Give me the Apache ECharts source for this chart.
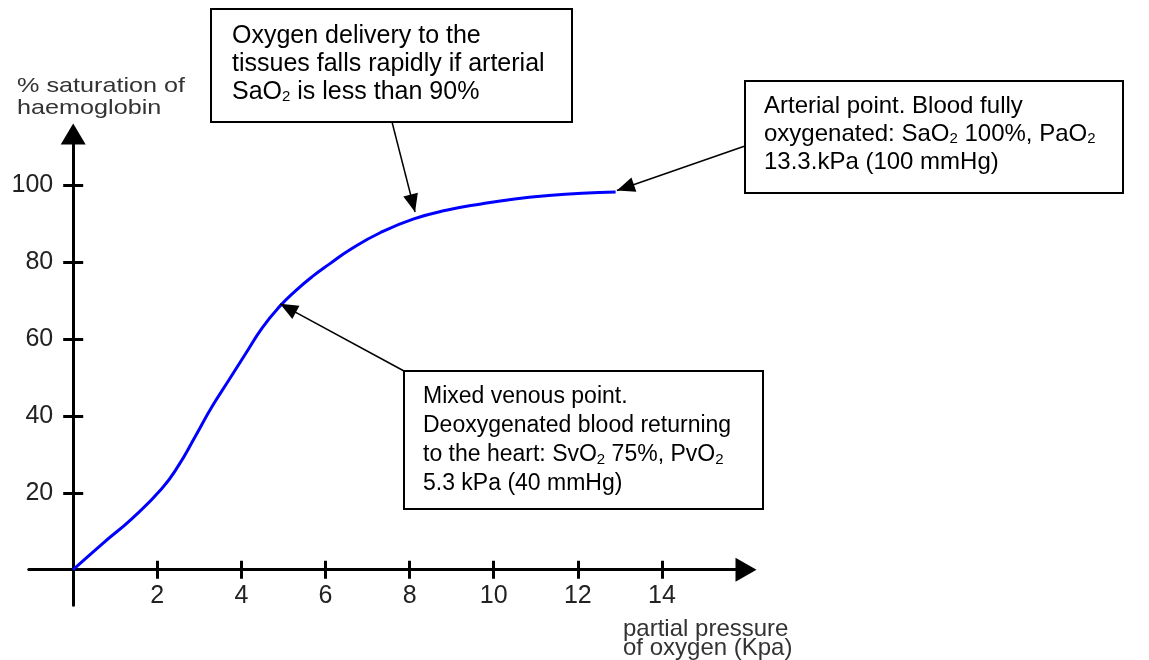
<!DOCTYPE html>
<html>
<head>
<meta charset="utf-8">
<title>Oxygen dissociation curve</title>
<script src="https://cdn.jsdelivr.net/npm/echarts@6/dist/echarts.min.js"></script>
<style>
  html, body { margin: 0; padding: 0; background: #fff; }
  #chart-main { width: 1149px; height: 660px; }
</style>
</head>
<body>
<div id="chart-main"></div>
<script>
  // partial pressure of oxygen (kPa) and % saturation
  const po2 = [0, 0.7, 1.4, 2.1, 2.5, 2.9, 3.3, 3.7, 4.1, 4.5, 4.9, 5.3, 5.7, 6.1, 6.6, 7.3, 8.1, 8.9, 9.7, 10.5, 11.3, 12.1, 12.9];
  const saturation = [0, 6.8, 13.3, 21, 27, 34.6, 42.4, 49.3, 56.2, 63, 68.4, 72.7, 76.4, 79.6, 83.4, 87.7, 91.3, 93.6, 95.2, 96.5, 97.4, 98, 98.3];

  const xTicks = [2, 4, 6, 8, 10, 12, 14];
  const yTicks = [20, 40, 60, 80, 100];

  // where the annotation arrows point
  const thresholdPoint = [8.13, 93.1];
  const arterialPoint = [12.93, 98.7];
  const venousPoint = [4.92, 69.2];

  const FONT = '"Liberation Sans", Arial, sans-serif';
  const axisColor = '#000';

  const chartDom = document.getElementById('chart-main');
  const myChart = echarts.init(chartDom, null, { renderer: 'canvas' });

  // grid edges sit left of / below the origin, axes are pulled in with a negative offset
  function xAxisDef(main) {
    return {
      type: 'value',
      gridIndex: 0,
      position: 'bottom',
      offset: -35.3,
      min: -1.05,
      max: 16,
      axisLine: {
        show: true,
        onZero: false,
        symbol: main ? ['none', 'triangle'] : 'none',
        symbolSize: [24, 21],
        lineStyle: { color: axisColor, width: 3 }
      },
      axisTick: {
        show: true,
        customValues: xTicks,
        inside: !main,
        length: 9,
        lineStyle: { color: axisColor, width: 3 }
      },
      axisLabel: {
        show: main,
        customValues: xTicks,
        margin: 14,
        color: '#222',
        fontSize: 25,
        fontFamily: FONT
      },
      splitLine: { show: false }
    };
  }

  function yAxisDef(main) {
    return {
      type: 'value',
      gridIndex: 0,
      position: 'left',
      offset: -44.2,
      min: -9.2,
      max: 113.4,
      axisLine: {
        show: true,
        onZero: false,
        symbol: main ? ['none', 'triangle'] : 'none',
        symbolSize: [25, 21],
        lineStyle: { color: axisColor, width: 3 }
      },
      axisTick: {
        show: true,
        customValues: yTicks,
        inside: !main,
        length: 10,
        lineStyle: { color: axisColor, width: 3 }
      },
      axisLabel: {
        show: main,
        customValues: yTicks,
        margin: 20,
        color: '#222',
        fontSize: 25,
        fontFamily: FONT
      },
      splitLine: { show: false }
    };
  }

  function box(x, y, w, h, tx, ty, text, fontSize, lineHeight) {
    return {
      type: 'group',
      children: [
        {
          type: 'rect',
          shape: { x: x, y: y, width: w, height: h },
          style: { fill: '#fff', stroke: '#000', lineWidth: 2 }
        },
        {
          type: 'text',
          x: tx,
          y: ty,
          style: {
            text: text,
            fontSize: fontSize,
            fontFamily: FONT,
            lineHeight: lineHeight,
            fill: '#000',
            verticalAlign: 'top',
            rich: {
              s: { fontSize: 15, fontFamily: FONT, verticalAlign: 'bottom', padding: [0, 0, 2, 0] }
            }
          }
        }
      ]
    };
  }

  const option = {
    animation: false,
    backgroundColor: '#fff',
    grid: {
      left: 29,
      right: 403,
      top: 134,
      bottom: 55,
      containLabel: false,
      outerBoundsMode: 'none'
    },
    xAxis: [xAxisDef(true), xAxisDef(false)],
    yAxis: [yAxisDef(true), yAxisDef(false)],
    series: [
      {
        type: 'line',
        xAxisIndex: 0,
        yAxisIndex: 0,
        data: po2.map((p, i) => [p, saturation[i]]),
        smooth: 0.5,
        showSymbol: false,
        lineStyle: { color: '#0000ff', width: 3 },
        markLine: {
          silent: true,
          animation: false,
          symbol: ['none', 'triangle'],
          symbolSize: [15, 18],
          symbolOffset: [0, [0, 9]],
          label: { show: false },
          lineStyle: { color: '#000', width: 1.5, type: 'solid' },
          emphasis: { disabled: true },
          data: [
            [{ x: 392, y: 122 }, { coord: thresholdPoint }],
            [{ x: 745, y: 146 }, { coord: arterialPoint }],
            [{ x: 404, y: 371 }, { coord: venousPoint }]
          ]
        }
      }
    ],
    graphic: [
      {
        type: 'text',
        x: 17,
        y: 75,
        scaleX: 1.2,
        style: {
          text: '% saturation of\nhaemoglobin',
          fontSize: 21,
          fontFamily: FONT,
          lineHeight: 22,
          fill: '#333',
          verticalAlign: 'top'
        }
      },
      {
        type: 'text',
        x: 623,
        y: 620,
        style: {
          text: 'partial pressure\nof oxygen (Kpa)',
          fontSize: 24,
          fontFamily: FONT,
          lineHeight: 19,
          fill: '#333',
          verticalAlign: 'top'
        }
      },
      box(211, 9, 361, 113, 232, 22,
        'Oxygen delivery to the\ntissues falls rapidly if arterial\nSaO{s|2} is less than 90%', 25, 28),
      box(745, 81, 378, 112, 764, 92,
        'Arterial point. Blood fully\noxygenated: SaO{s|2} 100%, PaO{s|2}\n13.3.kPa (100 mmHg)', 24, 28),
      box(404, 371, 359, 138, 423, 382,
        'Mixed venous point.\nDeoxygenated blood returning\nto the heart: SvO{s|2} 75%, PvO{s|2}\n5.3 kPa (40 mmHg)', 23, 29)
    ]
  };

  myChart.setOption(option);
</script>
</body>
</html>
